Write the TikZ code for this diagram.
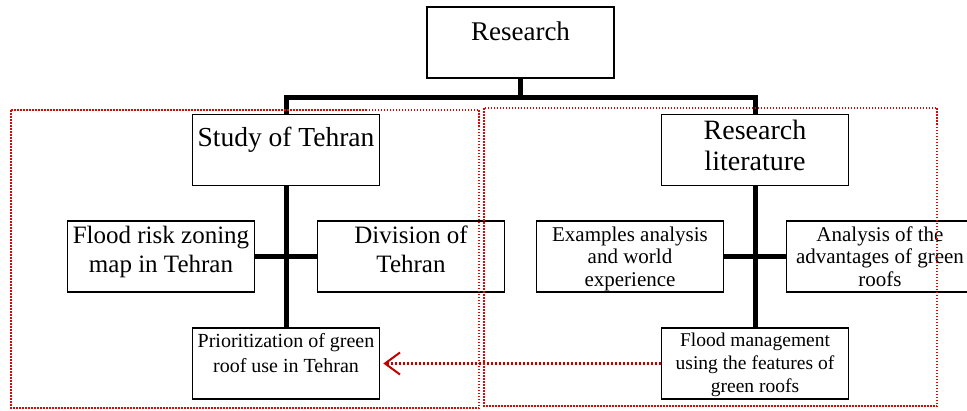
\documentclass[tikz,border=0pt]{standalone}
\usepackage{fontspec}
\setmainfont{Liberation Serif}
\usetikzlibrary{arrows.meta}
\definecolor{grpred}{RGB}{215,10,10}
\definecolor{arrred}{RGB}{195,0,0}
\tikzset{
  box/.style={draw, line width=1.6pt, minimum width=187pt, minimum height=71pt, inner sep=0pt},
  txt/.style={anchor=north, inner sep=0pt, align=center},
  conn/.style={line width=5pt},
  grp/.style={draw=grpred, line width=1.5pt, dash pattern=on 1.5pt off 1.5pt},
}
\begin{document}
\begin{tikzpicture}[x=1pt,y=-1pt]
\useasboundingbox (0,0) rectangle (967,410);
\clip (0,0) rectangle (967,410);
% boxes
\node[box] (research) at (520.5,42.5) {};
\node[box] (study) at (286,150) {};
\node[box] (flood) at (161,256.5) {};
\node[box] (division) at (411,256.5) {};
\node[box] (prior) at (286,363.5) {};
\node[box] (lit) at (755,150) {};
\node[box] (examples) at (630,256.5) {};
\node[box] (analysis) at (880,256.5) {};
\node[box] (fmgmt) at (755,363.5) {};
% texts
\node[txt, font=\fontsize{27}{29}\selectfont] (researchT) at (520.5,21.5) {Research};
\node[txt, font=\fontsize{27.5}{29}\selectfont] (studyT) at (286,126.5) {Study of Tehran};
\node[txt, font=\fontsize{25}{29}\selectfont] (floodT) at (161,226) {Flood risk zoning\\map in Tehran};
\node[txt, font=\fontsize{25}{29}\selectfont] (divisionT) at (411,226) {Division of\\Tehran};
\node[txt, font=\fontsize{20}{25}\selectfont] (priorT) at (286,333) {Prioritization of green\\roof use in Tehran};
\node[txt, font=\fontsize{28}{31}\selectfont] (litT) at (755,120) {Research\\literature};
\node[txt, font=\fontsize{21}{22.5}\selectfont] (examplesT) at (630,226.5) {Examples analysis\\and world\\experience};
\node[txt, font=\fontsize{21}{22.5}\selectfont] (analysisT) at (880,226.5) {Analysis of the\\advantages of green\\roofs};
\node[txt, font=\fontsize{19.5}{23}\selectfont] (fmgmtT) at (755,332.5) {Flood management\\using the features of\\green roofs};
% connectors
\coordinate (bar) at (520.5,97);
\draw[conn] (research.south) -- (bar);
\draw[conn] (study.north) -- (study.north |- bar) -- (lit.north |- bar) -- (lit.north);
\draw[conn] (study.south) -- (prior.north);
\draw[conn] (flood.east) -- (division.west);
\draw[conn] (lit.south) -- (fmgmt.north);
\draw[conn] (examples.east) -- (analysis.west);
% dotted arrow
\draw[arrred, line width=2.2pt, dash pattern=on 2pt off 2pt, shorten >=3pt,
  -{Straight Barb[length=15pt,width=22pt,line width=2pt]}] (fmgmt.west) -- (prior.east);
% red dotted groups
\draw[grp] (11,110) rectangle (479,408);
\draw[grp] (484,108) rectangle (937,406);
\end{tikzpicture}
\end{document}
